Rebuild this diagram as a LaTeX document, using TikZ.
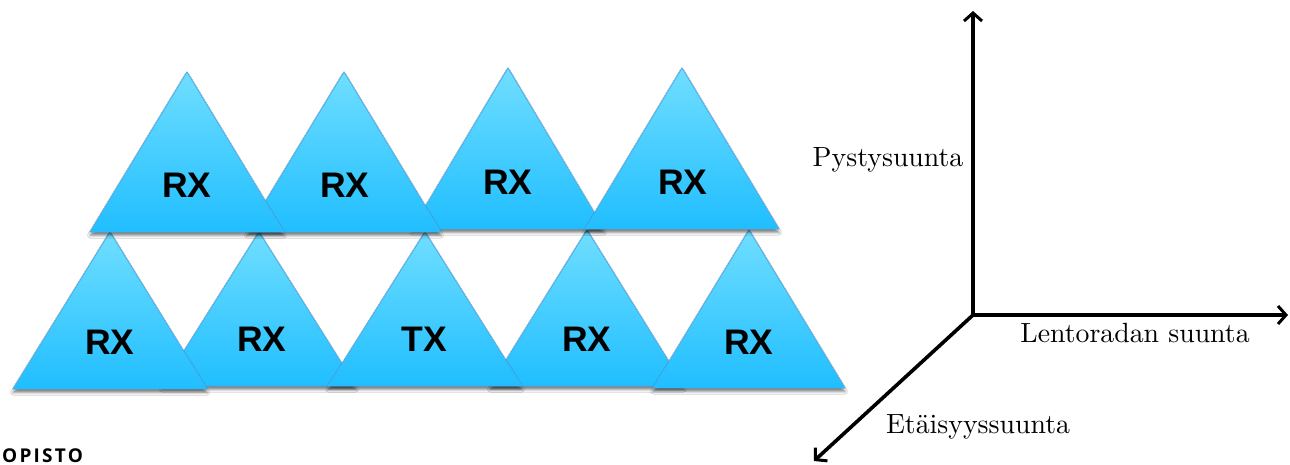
\documentclass[tikz,border=0pt]{standalone}
\usepackage{fontspec}
\setmainfont{lmroman10-regular.otf}
\newfontfamily\arialb{Liberation Sans}[BoldFont={Liberation Sans Bold}]
\newfontfamily\opisto{Open Sans}[BoldFont={Open Sans Bold}]
\usetikzlibrary{arrows.meta,shadows.blur}
\definecolor{tritop}{RGB}{112,222,255}
\definecolor{tribot}{RGB}{32,190,255}
\definecolor{triedge}{RGB}{70,175,240}
\tikzset{
  tri/.style={draw=triedge, line width=0.8pt, top color=tritop, bottom color=tribot,
    line join=miter,
    blur shadow={shadow xshift=0pt, shadow yshift=-3.5pt, shadow blur radius=2.5pt, shadow opacity=50}},
  trilabel/.style={font=\arialb\bfseries\fontsize{35.5}{40}\selectfont, inner sep=0pt, anchor=center},
  axis/.style={line width=3.6pt, -{Straight Barb[length=8pt,width=18pt,line width=3pt]}, line join=round},
  axlabel/.style={font=\fontsize{27.8}{32}\selectfont, inner sep=0pt, anchor=center}
}
% \mytri{apex x}{apex y}{base y}{half width}
\newcommand{\mytri}[4]{\path[tri] (#1,#2) -- ({#1+#4},#3) -- ({#1-#4},#3) -- cycle;}
\begin{document}
\begin{tikzpicture}[x=1pt,y=-1pt]
\useasboundingbox (0,0) rectangle (1290,465);
\clip (0,0) rectangle (1290,465);
\fill[white] (0,0) rectangle (1290,465);
% bottom row (drawn first)
\mytri{259}{232}{386}{97}
\mytri{587}{230}{386}{97}
\mytri{110}{232}{389}{97}
\mytri{425}{232}{386}{97}
\mytri{749}{230}{388}{96}
% top row
\mytri{508}{68}{229}{96}
\mytri{344}{72}{232}{97}
\mytri{682}{68}{229}{97}
\mytri{187}{72}{232}{97}
% labels
\node[trilabel] (t1) at (187,185) {RX};
\node[trilabel] (t2) at (345,185) {RX};
\node[trilabel] (t3) at (508,182) {RX};
\node[trilabel] (t4) at (683,182) {RX};
\node[trilabel] (b1) at (110,342) {RX};
\node[trilabel] (b2) at (262,339) {RX};
\node[trilabel] (b3) at (424,339) {TX};
\node[trilabel] (b4) at (587,339) {RX};
\node[trilabel] (b5) at (749,342) {RX};
% axes
\coordinate (O) at (973,315);
\coordinate (U) at (973,11);
\coordinate (R) at (1288,315);
\coordinate (D) at (814,461);
\draw[axis] (O) -- (U);
\draw[axis] (O) -- (R);
\draw[axis] (O) -- (D);
\node[axlabel] (py) at (888,160) {Pystysuunta};
\node[axlabel] (le) at (1135,333) {Lentoradan suunta};
\node[axlabel] (et) at (978,427) {Etäisyyssuunta};
% footer text
\node[font=\opisto\bfseries\fontsize{19}{20}\selectfont, anchor=base west, inner sep=0pt] (op) at (2,462)
  {O\kern2.2pt P\kern2.2pt I\kern2.2pt S\kern2.2pt T\kern2.2pt O};
\end{tikzpicture}
\end{document}
